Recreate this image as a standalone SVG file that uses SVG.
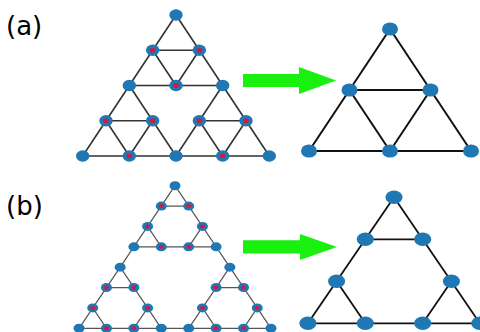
<svg xmlns="http://www.w3.org/2000/svg" width="480" height="332" viewBox="0 0 480 332">
<style>
.lbl{font-family:"DejaVu Sans","Liberation Sans",sans-serif;font-size:26px;fill:#000}
.ea{stroke:#333;stroke-width:1.6;fill:none;stroke-linecap:round}
.ear{stroke:#111;stroke-width:2;fill:none;stroke-linecap:round}
.eb{stroke:#555;stroke-width:1.2;fill:none;stroke-linecap:round}
.ebr{stroke:#111;stroke-width:1.8;fill:none;stroke-linecap:round}
.n{fill:#1f77b4}
.r{fill:#d6183c}
.arr{fill:#19f010}
</style>
<rect width="480" height="332" fill="#fff"/>
<text class="lbl" x="6" y="35">(a)</text>
<text class="lbl" x="6" y="215">(b)</text>
<g id="connectors">
<g id="edges-a-left">
<line class="ea" x1="176" y1="15" x2="82.67" y2="156"/>
<line class="ea" x1="176" y1="15" x2="269.33" y2="156"/>
<line class="ea" x1="82.67" y1="156" x2="269.33" y2="156"/>
<line class="ea" x1="152.67" y1="50.25" x2="199.33" y2="50.25"/>
<line class="ea" x1="129.33" y1="85.5" x2="222.67" y2="85.5"/>
<line class="ea" x1="106" y1="120.75" x2="152.67" y2="120.75"/>
<line class="ea" x1="199.33" y1="120.75" x2="246" y2="120.75"/>
<line class="ea" x1="152.67" y1="50.25" x2="176" y2="85.5"/>
<line class="ea" x1="199.33" y1="50.25" x2="176" y2="85.5"/>
<line class="ea" x1="129.33" y1="85.5" x2="176" y2="156"/>
<line class="ea" x1="222.67" y1="85.5" x2="176" y2="156"/>
<line class="ea" x1="106" y1="120.75" x2="129.33" y2="156"/>
<line class="ea" x1="152.67" y1="120.75" x2="129.33" y2="156"/>
<line class="ea" x1="199.33" y1="120.75" x2="222.67" y2="156"/>
<line class="ea" x1="246" y1="120.75" x2="222.67" y2="156"/>
</g>
<g id="edges-a-right">
<line class="ear" x1="390" y1="29" x2="309" y2="151"/>
<line class="ear" x1="390" y1="29" x2="471" y2="151"/>
<line class="ear" x1="309" y1="151" x2="471" y2="151"/>
<line class="ear" x1="349.5" y1="90" x2="430.5" y2="90"/>
<line class="ear" x1="349.5" y1="90" x2="390" y2="151"/>
<line class="ear" x1="430.5" y1="90" x2="390" y2="151"/>
</g>
<g id="edges-b-left">
<line class="eb" x1="175" y1="185.7" x2="79.03" y2="328.29"/>
<line class="eb" x1="175" y1="185.7" x2="270.97" y2="328.29"/>
<line class="eb" x1="79.03" y1="328.29" x2="270.97" y2="328.29"/>
<line class="eb" x1="161.29" y1="206.07" x2="188.71" y2="206.07"/>
<line class="eb" x1="133.87" y1="246.81" x2="216.13" y2="246.81"/>
<line class="eb" x1="147.58" y1="226.44" x2="161.29" y2="246.81"/>
<line class="eb" x1="202.42" y1="226.44" x2="188.71" y2="246.81"/>
<line class="eb" x1="106.45" y1="287.55" x2="133.87" y2="287.55"/>
<line class="eb" x1="216.13" y1="287.55" x2="243.55" y2="287.55"/>
<line class="eb" x1="120.16" y1="267.18" x2="161.29" y2="328.29"/>
<line class="eb" x1="229.84" y1="267.18" x2="188.71" y2="328.29"/>
<line class="eb" x1="92.74" y1="307.92" x2="106.45" y2="328.29"/>
<line class="eb" x1="147.58" y1="307.92" x2="133.87" y2="328.29"/>
<line class="eb" x1="202.42" y1="307.92" x2="216.13" y2="328.29"/>
<line class="eb" x1="257.26" y1="307.92" x2="243.55" y2="328.29"/>
</g>
<g id="edges-b-right">
<line class="ebr" x1="394" y1="197.3" x2="307.9" y2="323.3"/>
<line class="ebr" x1="394" y1="197.3" x2="479.8" y2="323.3"/>
<line class="ebr" x1="307.9" y1="323.3" x2="479.8" y2="323.3"/>
<line class="ebr" x1="365.3" y1="239.3" x2="422.7" y2="239.3"/>
<line class="ebr" x1="336.6" y1="281.3" x2="365.3" y2="323.3"/>
<line class="ebr" x1="451.4" y1="281.3" x2="422.7" y2="323.3"/>
</g>
<g id="arrows">
<polygon class="arr" points="243,74 299,74 299,67 336,80.5 299,94 299,87 243,87"/>
<polygon class="arr" points="243,240.3 300,240.3 300,234 337,247 300,260 300,253.6 243,253.6"/>
</g>
</g>
<g id="nodes-a-left">
<g id="a1"><ellipse class="n" cx="176" cy="15" rx="6.7" ry="5.7"/></g>
<g id="a2"><ellipse class="n" cx="152.67" cy="50.25" rx="6.7" ry="5.7"/><ellipse class="r" cx="152.67" cy="50.25" rx="2.8" ry="2.2"/></g>
<g id="a3"><ellipse class="n" cx="199.33" cy="50.25" rx="6.7" ry="5.7"/><ellipse class="r" cx="199.33" cy="50.25" rx="2.8" ry="2.2"/></g>
<g id="a4"><ellipse class="n" cx="129.33" cy="85.5" rx="6.7" ry="5.7"/></g>
<g id="a5"><ellipse class="n" cx="176" cy="85.5" rx="6.7" ry="5.7"/><ellipse class="r" cx="176" cy="85.5" rx="2.8" ry="2.2"/></g>
<g id="a6"><ellipse class="n" cx="222.67" cy="85.5" rx="6.7" ry="5.7"/></g>
<g id="a7"><ellipse class="n" cx="106" cy="120.75" rx="6.7" ry="5.7"/><ellipse class="r" cx="106" cy="120.75" rx="2.8" ry="2.2"/></g>
<g id="a8"><ellipse class="n" cx="152.67" cy="120.75" rx="6.7" ry="5.7"/><ellipse class="r" cx="152.67" cy="120.75" rx="2.8" ry="2.2"/></g>
<g id="a9"><ellipse class="n" cx="199.33" cy="120.75" rx="6.7" ry="5.7"/><ellipse class="r" cx="199.33" cy="120.75" rx="2.8" ry="2.2"/></g>
<g id="a10"><ellipse class="n" cx="246" cy="120.75" rx="6.7" ry="5.7"/><ellipse class="r" cx="246" cy="120.75" rx="2.8" ry="2.2"/></g>
<g id="a11"><ellipse class="n" cx="82.67" cy="156" rx="6.7" ry="5.7"/></g>
<g id="a12"><ellipse class="n" cx="129.33" cy="156" rx="6.7" ry="5.7"/><ellipse class="r" cx="129.33" cy="156" rx="2.8" ry="2.2"/></g>
<g id="a13"><ellipse class="n" cx="176" cy="156" rx="6.7" ry="5.7"/></g>
<g id="a14"><ellipse class="n" cx="222.67" cy="156" rx="6.7" ry="5.7"/><ellipse class="r" cx="222.67" cy="156" rx="2.8" ry="2.2"/></g>
<g id="a15"><ellipse class="n" cx="269.33" cy="156" rx="6.7" ry="5.7"/></g>
</g>
<g id="nodes-a-right">
<g id="ar1"><ellipse class="n" cx="390" cy="29" rx="8" ry="6.6"/></g>
<g id="ar2"><ellipse class="n" cx="349.5" cy="90" rx="8" ry="6.6"/></g>
<g id="ar3"><ellipse class="n" cx="430.5" cy="90" rx="8" ry="6.6"/></g>
<g id="ar4"><ellipse class="n" cx="309" cy="151" rx="8" ry="6.6"/></g>
<g id="ar5"><ellipse class="n" cx="390" cy="151" rx="8" ry="6.6"/></g>
<g id="ar6"><ellipse class="n" cx="471" cy="151" rx="8" ry="6.6"/></g>
</g>
<g id="nodes-b-left">
<g id="b1"><ellipse class="n" cx="175" cy="185.7" rx="5.5" ry="4.5"/></g>
<g id="b2"><ellipse class="n" cx="161.29" cy="206.07" rx="5.5" ry="4.5"/><ellipse class="r" cx="161.29" cy="206.07" rx="2.5" ry="2"/></g>
<g id="b3"><ellipse class="n" cx="188.71" cy="206.07" rx="5.5" ry="4.5"/><ellipse class="r" cx="188.71" cy="206.07" rx="2.5" ry="2"/></g>
<g id="b4"><ellipse class="n" cx="147.58" cy="226.44" rx="5.5" ry="4.5"/><ellipse class="r" cx="147.58" cy="226.44" rx="2.5" ry="2"/></g>
<g id="b5"><ellipse class="n" cx="202.42" cy="226.44" rx="5.5" ry="4.5"/><ellipse class="r" cx="202.42" cy="226.44" rx="2.5" ry="2"/></g>
<g id="b6"><ellipse class="n" cx="133.87" cy="246.81" rx="5.5" ry="4.5"/></g>
<g id="b7"><ellipse class="n" cx="161.29" cy="246.81" rx="5.5" ry="4.5"/><ellipse class="r" cx="161.29" cy="246.81" rx="2.5" ry="2"/></g>
<g id="b8"><ellipse class="n" cx="188.71" cy="246.81" rx="5.5" ry="4.5"/><ellipse class="r" cx="188.71" cy="246.81" rx="2.5" ry="2"/></g>
<g id="b9"><ellipse class="n" cx="216.13" cy="246.81" rx="5.5" ry="4.5"/></g>
<g id="b10"><ellipse class="n" cx="120.16" cy="267.18" rx="5.5" ry="4.5"/></g>
<g id="b11"><ellipse class="n" cx="229.84" cy="267.18" rx="5.5" ry="4.5"/></g>
<g id="b12"><ellipse class="n" cx="106.45" cy="287.55" rx="5.5" ry="4.5"/><ellipse class="r" cx="106.45" cy="287.55" rx="2.5" ry="2"/></g>
<g id="b13"><ellipse class="n" cx="133.87" cy="287.55" rx="5.5" ry="4.5"/><ellipse class="r" cx="133.87" cy="287.55" rx="2.5" ry="2"/></g>
<g id="b14"><ellipse class="n" cx="216.13" cy="287.55" rx="5.5" ry="4.5"/><ellipse class="r" cx="216.13" cy="287.55" rx="2.5" ry="2"/></g>
<g id="b15"><ellipse class="n" cx="243.55" cy="287.55" rx="5.5" ry="4.5"/><ellipse class="r" cx="243.55" cy="287.55" rx="2.5" ry="2"/></g>
<g id="b16"><ellipse class="n" cx="92.74" cy="307.92" rx="5.5" ry="4.5"/><ellipse class="r" cx="92.74" cy="307.92" rx="2.5" ry="2"/></g>
<g id="b17"><ellipse class="n" cx="147.58" cy="307.92" rx="5.5" ry="4.5"/><ellipse class="r" cx="147.58" cy="307.92" rx="2.5" ry="2"/></g>
<g id="b18"><ellipse class="n" cx="202.42" cy="307.92" rx="5.5" ry="4.5"/><ellipse class="r" cx="202.42" cy="307.92" rx="2.5" ry="2"/></g>
<g id="b19"><ellipse class="n" cx="257.26" cy="307.92" rx="5.5" ry="4.5"/><ellipse class="r" cx="257.26" cy="307.92" rx="2.5" ry="2"/></g>
<g id="b20"><ellipse class="n" cx="79.03" cy="328.29" rx="5.5" ry="4.5"/></g>
<g id="b21"><ellipse class="n" cx="106.45" cy="328.29" rx="5.5" ry="4.5"/><ellipse class="r" cx="106.45" cy="328.29" rx="2.5" ry="2"/></g>
<g id="b22"><ellipse class="n" cx="133.87" cy="328.29" rx="5.5" ry="4.5"/><ellipse class="r" cx="133.87" cy="328.29" rx="2.5" ry="2"/></g>
<g id="b23"><ellipse class="n" cx="161.29" cy="328.29" rx="5.5" ry="4.5"/></g>
<g id="b24"><ellipse class="n" cx="188.71" cy="328.29" rx="5.5" ry="4.5"/></g>
<g id="b25"><ellipse class="n" cx="216.13" cy="328.29" rx="5.5" ry="4.5"/><ellipse class="r" cx="216.13" cy="328.29" rx="2.5" ry="2"/></g>
<g id="b26"><ellipse class="n" cx="243.55" cy="328.29" rx="5.5" ry="4.5"/><ellipse class="r" cx="243.55" cy="328.29" rx="2.5" ry="2"/></g>
<g id="b27"><ellipse class="n" cx="270.97" cy="328.29" rx="5.5" ry="4.5"/></g>
</g>
<g id="nodes-b-right">
<g id="br1"><ellipse class="n" cx="394" cy="197.3" rx="8.5" ry="6.8"/></g>
<g id="br2"><ellipse class="n" cx="365.3" cy="239.3" rx="8.5" ry="6.8"/></g>
<g id="br3"><ellipse class="n" cx="422.7" cy="239.3" rx="8.5" ry="6.8"/></g>
<g id="br4"><ellipse class="n" cx="336.6" cy="281.3" rx="8.5" ry="6.8"/></g>
<g id="br5"><ellipse class="n" cx="451.4" cy="281.3" rx="8.5" ry="6.8"/></g>
<g id="br6"><ellipse class="n" cx="307.9" cy="323.3" rx="8.5" ry="6.8"/></g>
<g id="br7"><ellipse class="n" cx="365.3" cy="323.3" rx="8.5" ry="6.8"/></g>
<g id="br8"><ellipse class="n" cx="422.7" cy="323.3" rx="8.5" ry="6.8"/></g>
<g id="br9"><ellipse class="n" cx="479.8" cy="323.3" rx="8.5" ry="6.8"/></g>
</g>
</svg>
